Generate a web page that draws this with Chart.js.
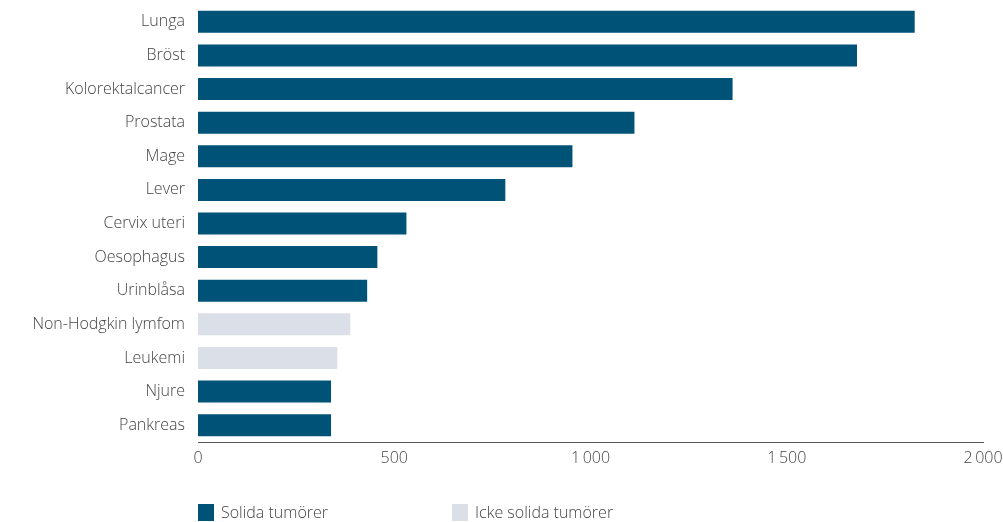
<!DOCTYPE html>
<html>
<head>
<meta charset="utf-8">
<script src="https://cdn.jsdelivr.net/npm/chart.js@4"></script>
<style>
  html, body { margin: 0; padding: 0; background: #fff; }
  #wrap { position: relative; width: 1003px; height: 522px; }
  canvas { position: absolute; left: 0; top: 0; }
  .leg { position: absolute; top: 504px; font: 300 16px "Open Sans", "Noto Sans", sans-serif; color: #444; display: flex; align-items: center; white-space: nowrap; line-height: 17px; }
  .sw { width: 16px; height: 17px; display: inline-block; margin-right: 7px; }
</style>
</head>
<body>
<div id="wrap">
  <canvas id="c" width="1003" height="522"></canvas>
  <div class="leg" id="leg1" style="left:198px;"><span class="sw" style="background:#005377"></span><span id="l1"></span></div>
  <div class="leg" id="leg2" style="left:452px;"><span class="sw" style="background:#dbdfe7"></span><span id="l2"></span></div>
</div>
<script>
const categories = ["Lunga", "Bröst", "Kolorektalcancer", "Prostata", "Mage", "Lever", "Cervix uteri", "Oesophagus", "Urinblåsa", "Non-Hodgkin lymfom", "Leukemi", "Njure", "Pankreas"];
const solidValues = [1826, 1679, 1362, 1112, 954, 783, 531, 457, 431, null, null, 339, 339];
const nonSolidValues = [null, null, null, null, null, null, null, null, null, 388, 355, null, null];
const seriesNames = ["Solida tumörer", "Icke solida tumörer"];
const xTicks = [0, 500, 1000, 1500, 2000];

document.getElementById('l1').textContent = seriesNames[0];
document.getElementById('l2').textContent = seriesNames[1];

const fontFamily = '"Open Sans", "Noto Sans", sans-serif';

new Chart(document.getElementById('c'), {
  type: 'bar',
  data: {
    labels: categories,
    datasets: [
      { label: seriesNames[0], data: solidValues, backgroundColor: '#005377', borderWidth: 0 },
      { label: seriesNames[1], data: nonSolidValues, backgroundColor: '#dbdfe7', borderWidth: 0 }
    ]
  },
  options: {
    indexAxis: 'y',
    responsive: false,
    animation: false,
    layout: { padding: { top: 5, right: 0, left: 0, bottom: 0 } },
    datasets: { bar: { categoryPercentage: 0.655, barPercentage: 1.0 } },
    plugins: { legend: { display: false }, tooltip: { enabled: false } },
    scales: {
      y: {
        stacked: true,
        grid: { display: false, drawTicks: false },
        border: { display: false },
        ticks: { color: '#444', padding: 13, font: { family: fontFamily, size: 16, weight: '300' } },
        afterFit: (s) => { s.width = 198; s.paddingTop = 0; s.paddingBottom = 0; }
      },
      x: {
        stacked: true,
        min: 0, max: 2000,
        afterBuildTicks: (s) => { s.ticks = xTicks.map(v => ({ value: v })); },
        grid: { display: false, drawTicks: false },
        border: { display: true, color: '#555', width: 1 },
        ticks: {
          color: '#444', padding: 7,
          font: { family: fontFamily, size: 16, weight: '300' },
          callback: (v) => String(v).replace(/\B(?=(\d{3})+(?!\d))/g, '\u2009')
        },
        afterFit: (s) => { s.height = 80; s.paddingRight = 20; s.paddingLeft = 0; }
      }
    }
  }
});
</script>
</body>
</html>
